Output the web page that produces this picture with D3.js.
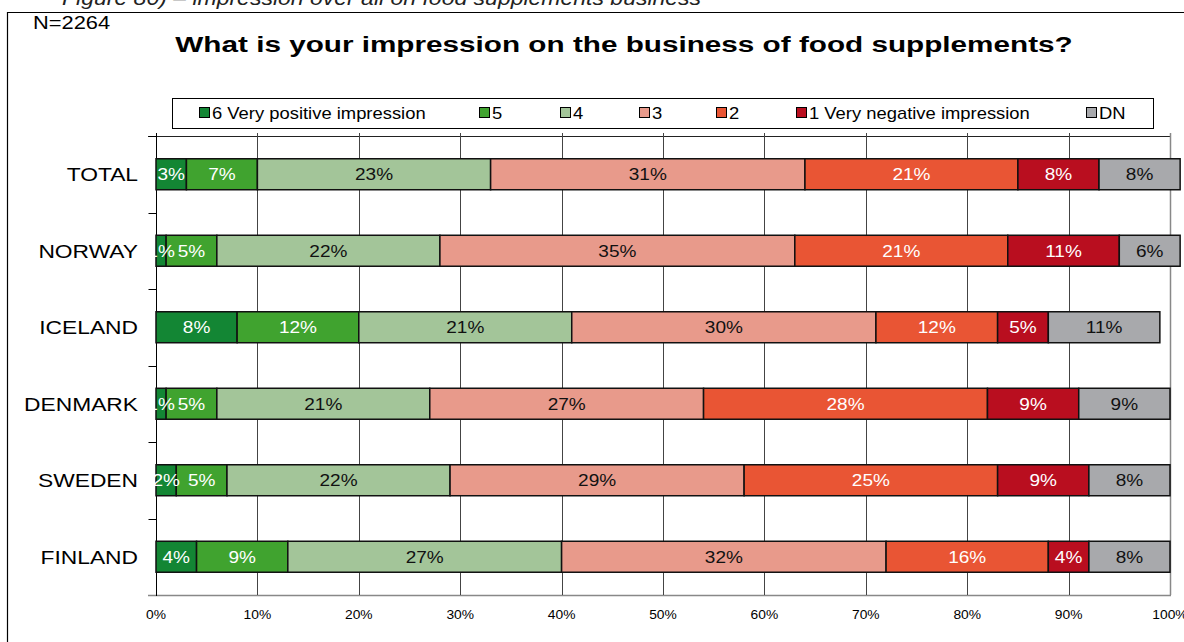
<!DOCTYPE html>
<html>
<head>
<meta charset="utf-8">
<script src="https://cdn.jsdelivr.net/npm/d3@7"></script>
<style>
  html, body { margin: 0; padding: 0; background: #fff; }
  svg { display: block; font-family: Arial, "Liberation Sans", sans-serif; }
</style>
</head>
<body>
<svg id="chart" width="1184" height="642"></svg>
<script>
// Survey answers, percent of respondents per country
const countries = ["TOTAL", "NORWAY", "ICELAND", "DENMARK", "SWEDEN", "FINLAND"];
const seriesNames = ["6 Very positive impression", "5", "4", "3", "2", "1 Very negative impression", "DN"];
const v6  = [3, 1, 8, 1, 2, 4];
const v5  = [7, 5, 12, 5, 5, 9];
const v4  = [23, 22, 21, 21, 22, 27];
const v3  = [31, 35, 30, 27, 29, 32];
const v2  = [21, 21, 12, 28, 25, 16];
const v1  = [8, 11, 5, 9, 9, 4];
const vDN = [8, 6, 11, 9, 8, 8];
const xTicks = [0, 10, 20, 30, 40, 50, 60, 70, 80, 90, 100];

const colors = ["#138634", "#40a32f", "#a3c599", "#e89a8b", "#e95534", "#b90e1f", "#a8a9ac"];
const labelColors = ["#fff", "#fff", "#111", "#111", "#fff", "#fff", "#111"];

const rows = countries.map((c, i) => {
  const vals = [v6[i], v5[i], v4[i], v3[i], v2[i], v1[i], vDN[i]];
  const r = { country: c };
  seriesNames.forEach((s, k) => r[s] = vals[k]);
  return r;
});
const stacked = d3.stack().keys(seriesNames)(rows);

const svg = d3.select("#chart");

// Text set in a slightly widened face
function wideText(sel, sx) {
  return sel.attr("transform", function () {
    const tx = +this.getAttribute("data-x"), ty = +this.getAttribute("data-y");
    return `translate(${tx},${ty}) scale(${sx},1)`;
  });
}
function placeText(parent, x, y, sx, txt) {
  return parent.append("text")
    .attr("transform", `translate(${x},${y}) scale(${sx},1)`)
    .text(txt);
}

// Page frame and caption above it
placeText(svg, 48, 5, 1.15, "- Figure 80) – impression over all on food supplements business")
  .attr("font-size", 20).attr("font-style", "italic").attr("fill", "#222");
svg.append("line").attr("x1", 7).attr("x2", 1184).attr("y1", 12.5).attr("y2", 12.5)
  .attr("stroke", "#000").attr("stroke-width", 1.2);
svg.append("line").attr("x1", 7.5).attr("x2", 7.5).attr("y1", 12).attr("y2", 642)
  .attr("stroke", "#000").attr("stroke-width", 1.2);

placeText(svg, 33, 29, 1.15, "N=2264").attr("font-size", 19);
placeText(svg, 624, 52, 1.35, "What is your impression on the business of food supplements?")
  .attr("text-anchor", "middle").attr("font-size", 22).attr("font-weight", "bold");

// Scales
const x = d3.scaleLinear().domain([0, 100]).range([156, 1170]);
const y = d3.scaleBand().domain(countries).range([136, 595])
  .paddingInner(0.595).paddingOuter(0.2975);

// Plot border and gridlines
svg.append("line").attr("x1", 148).attr("x2", 1170).attr("y1", 136.5).attr("y2", 136.5)
  .attr("stroke", "#222").attr("stroke-width", 1);
svg.append("line").attr("x1", 148).attr("x2", 1171).attr("y1", 595.5).attr("y2", 595.5)
  .attr("stroke", "#888").attr("stroke-width", 1.5);
svg.append("g").selectAll("line")
  .data(xTicks.filter(t => t > 0))
  .join("line")
  .attr("x1", d => Math.round(x(d)) + 0.5).attr("x2", d => Math.round(x(d)) + 0.5)
  .attr("y1", 133).attr("y2", 595)
  .attr("stroke", d => d === 100 ? "#888" : "#444")
  .attr("stroke-width", d => d === 100 ? 1.5 : 1);

// Category axis
const yAxis = svg.append("g").attr("transform", "translate(156.5,0)");
yAxis.append("line").attr("x1", 0).attr("x2", 0).attr("y1", 133).attr("y2", 596)
  .attr("stroke", "#000");
const bounds = d3.range(countries.length).map(i => y.range()[0] + i * y.step());
yAxis.selectAll("line.tick").data(bounds).join("line").attr("class", "tick")
  .attr("x1", -8).attr("x2", 0)
  .attr("y1", d => Math.round(d) + 0.5).attr("y2", d => Math.round(d) + 0.5)
  .attr("stroke", "#000");
svg.append("g").selectAll("text").data(countries).join("text")
  .attr("transform", d => `translate(138,${y(d) + y.bandwidth() / 2}) scale(1.2,1)`)
  .attr("dy", "0.36em").attr("text-anchor", "end")
  .attr("font-size", 19).attr("fill", "#000")
  .text(d => d);

// X tick labels
svg.append("g").selectAll("text").data(xTicks).join("text")
  .attr("transform", d => `translate(${x(d)},619) scale(1.15,1)`)
  .attr("text-anchor", "middle")
  .attr("font-size", 12).attr("fill", "#000")
  .text(d => d + "%");

// Stacked bars
const layers = svg.append("g").selectAll("g").data(stacked).join("g")
  .attr("fill", (d, i) => colors[i]);
layers.selectAll("rect").data(d => d).join("rect")
  .attr("x", d => x(d[0])).attr("width", d => x(d[1]) - x(d[0]))
  .attr("y", (d, i) => y(countries[i])).attr("height", y.bandwidth())
  .attr("stroke", "#111").attr("stroke-width", 1.5);

// Value labels
const labels = svg.append("g").selectAll("g").data(stacked).join("g")
  .attr("fill", (d, i) => labelColors[i]);
labels.selectAll("text").data(d => d).join("text")
  .attr("transform", (d, i) =>
    `translate(${(x(d[0]) + x(d[1])) / 2},${y(countries[i]) + y.bandwidth() / 2}) scale(1.12,1)`)
  .attr("dy", "0.36em").attr("text-anchor", "middle")
  .attr("font-size", 17)
  .text(d => (d[1] - d[0]) + "%");

// Legend
const legend = svg.append("g");
legend.append("rect").attr("x", 172.5).attr("y", 98.5).attr("width", 981).attr("height", 30)
  .attr("fill", "#fff").attr("stroke", "#000");
const legendX = [199, 479, 560, 639, 716, 796, 1086];
const items = legend.selectAll("g.item").data(seriesNames).join("g").attr("class", "item")
  .attr("transform", (d, i) => `translate(${legendX[i]},113)`);
items.append("rect").attr("x", 0.5).attr("y", -5.5).attr("width", 10).attr("height", 10)
  .attr("fill", (d, i) => colors[i]).attr("stroke", "#000");
items.append("text").attr("transform", "translate(13,0) scale(1.15,1)").attr("dy", "0.35em")
  .attr("font-size", 16).text(d => d);
</script>
</body>
</html>
